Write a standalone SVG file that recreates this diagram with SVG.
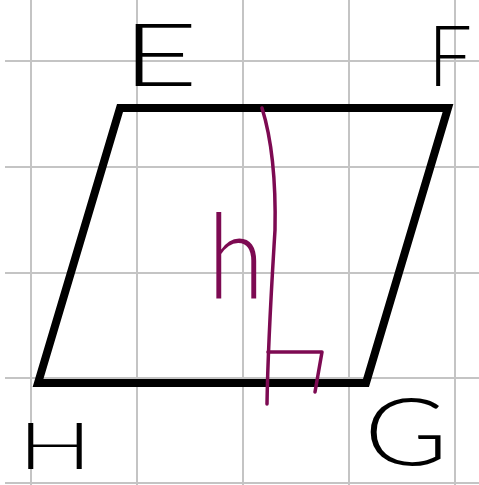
<svg xmlns="http://www.w3.org/2000/svg" width="479" height="485" viewBox="0 0 479 485">
<style>
.grid{stroke:#c4c4c4;stroke-width:2;fill:none}
.shape{stroke:#000;stroke-width:8;fill:none;stroke-linejoin:miter}
.ink{stroke:#7d0a52;stroke-width:3.5;fill:none;stroke-linecap:round;stroke-linejoin:round}
.lbl{font-family:Lato,"Liberation Sans",Arial,sans-serif;font-weight:300;fill:#000}
.plbl{font-family:Lato,"Liberation Sans",Arial,sans-serif;font-weight:300;fill:#7d0a52}
</style>
<rect width="479" height="485" fill="#fff"/>
<g id="grid" class="grid">
<line x1="31" y1="0" x2="31" y2="485"/>
<line x1="137" y1="0" x2="137" y2="485"/>
<line x1="243" y1="0" x2="243" y2="485"/>
<line x1="349" y1="0" x2="349" y2="485"/>
<line x1="455" y1="0" x2="455" y2="485"/>
<line x1="5" y1="61" x2="479" y2="61"/>
<line x1="5" y1="167" x2="479" y2="167"/>
<line x1="5" y1="273" x2="479" y2="273"/>
<line x1="5" y1="378" x2="479" y2="378"/>
<line x1="5" y1="483" x2="479" y2="483"/>
</g>
<g id="parallelogram">
<polygon class="shape" points="120,108 448,108 366,383 38,383"/>
</g>
<g id="connectors">
<path class="ink" d="M262,108 C272,140 276,180 275,230 C272,280 268,340 267,404"/>
<path class="ink" d="M268,352 L322,352 L315,392"/>
</g>
<g id="label-E"><text class="lbl" x="122" y="86" font-size="86" textLength="76" lengthAdjust="spacingAndGlyphs">E</text></g>
<g id="label-F"><text class="lbl" x="428" y="86" font-size="84" textLength="44" lengthAdjust="spacingAndGlyphs">F</text></g>
<g id="label-H"><text class="lbl" x="18" y="469" font-size="66" textLength="74" lengthAdjust="spacingAndGlyphs">H</text></g>
<g id="label-G"><text class="lbl" x="364" y="465" font-size="92" textLength="84" lengthAdjust="spacingAndGlyphs">G</text></g>
<g id="label-h"><text class="plbl" x="208" y="298" font-size="118" textLength="56" lengthAdjust="spacingAndGlyphs">h</text></g>
</svg>
